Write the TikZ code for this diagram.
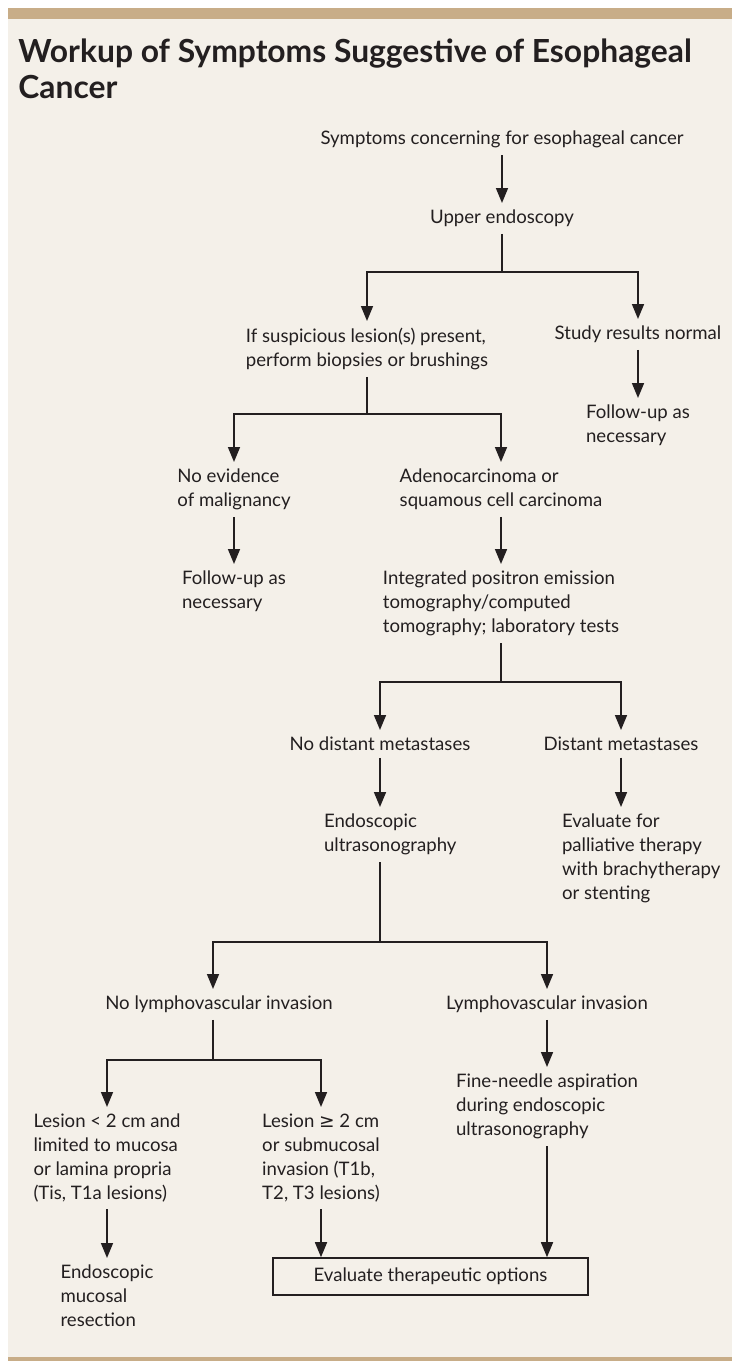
\documentclass[tikz,border=0pt]{standalone}
\usepackage{fontspec}
\setmainfont{Lato}
\newfontfamily\symbolfont{DejaVu Sans}
\usetikzlibrary{positioning,arrows.meta}
\definecolor{panel}{HTML}{F4F0E9}
\definecolor{tanbar}{HTML}{C8AD88}
\definecolor{ink}{HTML}{231F20}
\tikzset{
  txt/.style={font=\fontsize{9.3}{12}\selectfont, text=ink, align=left, inner sep=0pt, outer sep=3.5pt},
  titletxt/.style={font=\fontsize{15.9}{18}\selectfont\bfseries, text=ink, align=left, inner sep=0pt},
  flow/.style={draw=ink, line width=0.8pt, -{Triangle[width=6pt,length=7.5pt]}},
  link/.style={draw=ink, line width=0.8pt},
  evalbox/.style={draw=ink, line width=0.8pt, font=\fontsize{9.3}{12}\selectfont, text=ink,
    minimum width=157.5pt, minimum height=18.5pt, inner sep=0pt, outer sep=0.4pt}
}
\begin{document}
\begin{tikzpicture}[x=0.5pt,y=-0.5pt]
  \useasboundingbox (0,0) rectangle (732,1361);
  \fill[white] (0,0) rectangle (732,1361);
  \fill[panel] (8,19) rectangle (732,1357);
  \fill[tanbar] (8,8) rectangle (732,19);
  \fill[tanbar] (8,1357) rectangle (732,1361);

  \node[titletxt, anchor=north west] (title) at (18,38) {Workup of Symptoms Suggestive of Esophageal\\Cancer};

  \node[txt, anchor=north] (symp) at (502,124) {Symptoms concerning for esophageal cancer};
  \node[txt, anchor=north] (endo) at (502,203) {Upper endoscopy};
  \node[txt, anchor=north] (susp) at (367,321) {If suspicious lesion(s) present,\\perform biopsies or brushings};
  \node[txt, anchor=north] (normal) at (638,319) {Study results normal};
  \node[txt, anchor=north] (fu1) at (638,398) {Follow-up as\\necessary};
  \node[txt, anchor=north] (noev) at (234,462) {No evidence\\of malignancy};
  \node[txt, anchor=north] (adeno) at (501,462) {Adenocarcinoma or\\squamous cell carcinoma};
  \node[txt, anchor=north] (fu2) at (234,564) {Follow-up as\\necessary};
  \node[txt, anchor=north] (pet) at (501,564) {Integrated positron emission\\tomography/computed\\tomography; laboratory tests};
  \node[txt, anchor=north] (nodist) at (380,730) {No distant metastases};
  \node[txt, anchor=north] (dist) at (621,730) {Distant metastases};
  \node[txt, anchor=north west] (eus) at (317,807) {Endoscopic\\ultrasonography};
  \node[txt, anchor=north west] (pall) at (555,807) {Evaluate for\\palliative therapy\\with brachytherapy\\or stenting};
  \node[txt, anchor=north] (nolv) at (219,989) {No lymphovascular invasion};
  \node[txt, anchor=north] (lv) at (547,989) {Lymphovascular invasion};
  \node[txt, anchor=north] (fna) at (547,1067) {Fine-needle aspiration\\during endoscopic\\ultrasonography};
  \node[txt, anchor=north] (small) at (107,1107) {Lesion < 2 cm and\\limited to mucosa\\or lamina propria\\(Tis, T1a lesions)};
  \node[txt, anchor=north] (large) at (321,1107) {Lesion {\symbolfont ≥} 2 cm\\or submucosal\\invasion (T1b,\\T2, T3 lesions)};
  \node[txt, anchor=north] (emr) at (107,1258) {Endoscopic\\mucosal\\resection};
  \node[evalbox] (evalopt) at (430.5,1276.5) {Evaluate therapeutic options};

  \coordinate (j1) at (502,272);
  \coordinate (j2) at (367,414);
  \coordinate (j3) at (501,682);
  \coordinate (j4) at (380,942);
  \coordinate (c4) at (213,942);
  \coordinate (j5) at (213,1060);

  \draw[flow] (symp) -- (endo);
  \draw[link] (endo) -- (j1);
  \draw[flow] (j1) -| (susp);
  \draw[flow] (j1) -| (normal);
  \draw[flow] (normal) -- (fu1);
  \draw[link] (susp) -- (j2);
  \draw[flow] (j2) -| (noev);
  \draw[flow] (j2) -| (adeno);
  \draw[flow] (noev) -- (fu2);
  \draw[flow] (adeno) -- (pet);
  \draw[link] (pet) -- (j3);
  \draw[flow] (j3) -| (nodist);
  \draw[flow] (j3) -| (dist);
  \draw[flow] (nodist) -- (nodist |- eus.north);
  \draw[flow] (dist) -- (dist |- pall.north);
  \draw[link] (nodist |- eus.south) -- (j4);
  \draw[flow] (j4) -- (c4) -- (c4 |- nolv.north);
  \draw[flow] (j4) -| (lv);
  \draw[flow] (lv) -- (fna);
  \draw[link] (c4 |- nolv.south) -- (j5);
  \draw[flow] (j5) -| (small);
  \draw[flow] (j5) -| (large);
  \draw[flow] (small) -- (emr);
  \draw[flow] (large) -- (large |- evalopt.north);
  \draw[flow] (fna) -- (fna |- evalopt.north);
\end{tikzpicture}
\end{document}
